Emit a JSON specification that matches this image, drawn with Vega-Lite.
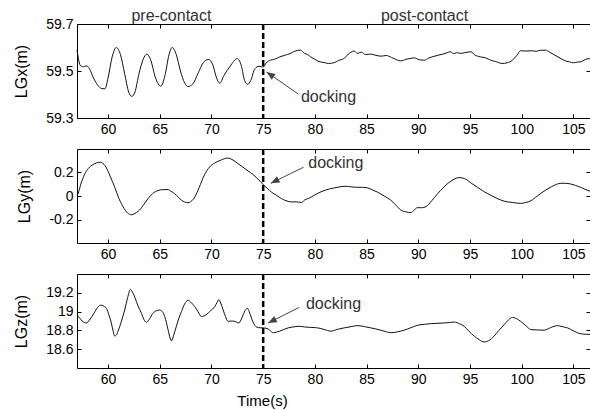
{
  "$schema": "https://vega.github.io/schema/vega-lite/v6.json",
  "background": "white",
  "padding": {"left": 13, "top": 7, "right": 1, "bottom": 3},
  "spacing": 31,
  "bounds": "flush",
  "config": {
    "view": {"stroke": "black", "strokeWidth": 1},
    "axis": {
      "grid": false, "domain": false, "tickColor": "black", "tickSize": -4,
      "labelFont": "Liberation Sans", "labelFontSize": 14, "labelColor": "black", "labelPadding": 8,
      "titleFont": "Liberation Sans", "titleFontSize": 16, "titleFontWeight": "normal", "titleColor": "black",
      "titlePadding": 16,
      "labelExpr": "'' + datum.value"
    },
    "text": {"font": "Liberation Sans", "fontSize": 16, "color": "#333"}
  },
  "datasets": {
    "p1": [
      {"t":57.0,"v":59.59},{"t":57.15,"v":59.55},{"t":57.3,"v":59.525},{"t":57.6,"v":59.518},{"t":57.9,"v":59.522},{"t":58.2,"v":59.51},{"t":58.6,"v":59.47},{"t":59.0,"v":59.44},{"t":59.4,"v":59.425},{"t":59.7,"v":59.424},{"t":60.0,"v":59.47},{"t":60.4,"v":59.56},{"t":60.8,"v":59.6},{"t":61.2,"v":59.57},{"t":61.6,"v":59.49},{"t":62.0,"v":59.41},{"t":62.3,"v":59.392},{"t":62.6,"v":59.41},{"t":63.0,"v":59.49},{"t":63.4,"v":59.55},{"t":63.75,"v":59.572},{"t":64.1,"v":59.55},{"t":64.6,"v":59.47},{"t":65.1,"v":59.435},{"t":65.5,"v":59.48},{"t":65.9,"v":59.57},{"t":66.2,"v":59.6},{"t":66.6,"v":59.57},{"t":67.0,"v":59.5},{"t":67.4,"v":59.45},{"t":67.75,"v":59.434},{"t":68.2,"v":59.445},{"t":68.7,"v":59.49},{"t":69.2,"v":59.535},{"t":69.7,"v":59.549},{"t":70.1,"v":59.53},{"t":70.5,"v":59.47},{"t":70.8,"v":59.448},{"t":71.2,"v":59.48},{"t":71.8,"v":59.52},{"t":72.5,"v":59.553},{"t":72.9,"v":59.52},{"t":73.2,"v":59.46},{"t":73.5,"v":59.443},{"t":73.8,"v":59.46},{"t":74.2,"v":59.51},{"t":74.6,"v":59.52},{"t":75.0,"v":59.517},{"t":75.3,"v":59.535},{"t":75.7,"v":59.546},{"t":76.1,"v":59.55},{"t":76.6,"v":59.56},{"t":77.1,"v":59.567},{"t":77.6,"v":59.574},{"t":78.1,"v":59.585},{"t":78.6,"v":59.589},{"t":79.0,"v":59.575},{"t":79.3,"v":59.57},{"t":79.6,"v":59.56},{"t":80.0,"v":59.55},{"t":80.4,"v":59.54},{"t":80.9,"v":59.536},{"t":81.3,"v":59.532},{"t":81.9,"v":59.536},{"t":82.3,"v":59.545},{"t":82.8,"v":59.553},{"t":83.2,"v":59.57},{"t":83.8,"v":59.585},{"t":84.1,"v":59.575},{"t":84.5,"v":59.58},{"t":84.9,"v":59.57},{"t":85.4,"v":59.572},{"t":85.8,"v":59.568},{"t":86.4,"v":59.563},{"t":86.9,"v":59.566},{"t":87.4,"v":59.558},{"t":87.9,"v":59.548},{"t":88.3,"v":59.543},{"t":88.8,"v":59.55},{"t":89.2,"v":59.553},{"t":89.6,"v":59.556},{"t":90.1,"v":59.548},{"t":90.6,"v":59.546},{"t":91.0,"v":59.555},{"t":91.5,"v":59.562},{"t":91.9,"v":59.567},{"t":92.4,"v":59.572},{"t":92.8,"v":59.578},{"t":93.1,"v":59.582},{"t":93.4,"v":59.574},{"t":93.7,"v":59.578},{"t":94.1,"v":59.575},{"t":94.5,"v":59.578},{"t":95.1,"v":59.582},{"t":95.4,"v":59.57},{"t":96.0,"v":59.56},{"t":96.5,"v":59.556},{"t":97.0,"v":59.546},{"t":97.5,"v":59.54},{"t":98.1,"v":59.532},{"t":98.6,"v":59.535},{"t":99.1,"v":59.546},{"t":99.5,"v":59.565},{"t":99.9,"v":59.586},{"t":100.4,"v":59.585},{"t":100.9,"v":59.586},{"t":101.4,"v":59.584},{"t":101.8,"v":59.588},{"t":102.3,"v":59.589},{"t":102.7,"v":59.58},{"t":103.1,"v":59.57},{"t":103.5,"v":59.56},{"t":103.9,"v":59.55},{"t":104.3,"v":59.542},{"t":104.6,"v":59.539},{"t":105.0,"v":59.535},{"t":105.4,"v":59.538},{"t":105.7,"v":59.539},{"t":106.1,"v":59.548},{"t":106.5,"v":59.553},{"t":106.6,"v":59.55}
    ],
    "p2": [
      {"t":57.0,"v":0.0},{"t":57.1,"v":0.019},{"t":57.4,"v":0.11},{"t":57.74,"v":0.185},{"t":58.1,"v":0.235},{"t":58.55,"v":0.268},{"t":59.26,"v":0.287},{"t":59.6,"v":0.27},{"t":59.84,"v":0.24},{"t":60.2,"v":0.17},{"t":60.65,"v":0.074},{"t":61.0,"v":-0.01},{"t":61.45,"v":-0.091},{"t":61.9,"v":-0.145},{"t":62.26,"v":-0.16},{"t":62.6,"v":-0.148},{"t":62.9,"v":-0.132},{"t":63.4,"v":-0.08},{"t":63.87,"v":-0.022},{"t":64.3,"v":0.02},{"t":64.84,"v":0.047},{"t":65.3,"v":0.054},{"t":65.8,"v":0.055},{"t":66.1,"v":0.04},{"t":66.45,"v":0.019},{"t":66.8,"v":-0.01},{"t":67.1,"v":-0.036},{"t":67.4,"v":-0.05},{"t":67.74,"v":-0.058},{"t":68.0,"v":-0.048},{"t":68.39,"v":-0.008},{"t":68.8,"v":0.07},{"t":69.35,"v":0.185},{"t":69.8,"v":0.245},{"t":70.32,"v":0.281},{"t":70.9,"v":0.305},{"t":71.55,"v":0.323},{"t":71.9,"v":0.315},{"t":72.26,"v":0.295},{"t":72.9,"v":0.255},{"t":73.55,"v":0.212},{"t":74.0,"v":0.185},{"t":74.35,"v":0.157},{"t":74.7,"v":0.125},{"t":75.0,"v":0.097},{"t":75.4,"v":0.065},{"t":75.8,"v":0.033},{"t":76.3,"v":0.005},{"t":76.77,"v":-0.022},{"t":77.2,"v":-0.04},{"t":77.74,"v":-0.05},{"t":78.2,"v":-0.05},{"t":78.7,"v":-0.055},{"t":78.97,"v":-0.036},{"t":79.4,"v":-0.02},{"t":79.94,"v":0.006},{"t":80.4,"v":0.028},{"t":80.9,"v":0.047},{"t":81.4,"v":0.06},{"t":81.87,"v":0.069},{"t":82.4,"v":0.078},{"t":83.0,"v":0.083},{"t":83.5,"v":0.078},{"t":84.12,"v":0.074},{"t":84.6,"v":0.074},{"t":85.1,"v":0.069},{"t":85.6,"v":0.05},{"t":86.06,"v":0.033},{"t":86.7,"v":0.0},{"t":87.35,"v":-0.036},{"t":87.8,"v":-0.075},{"t":88.3,"v":-0.119},{"t":88.8,"v":-0.135},{"t":89.28,"v":-0.141},{"t":89.6,"v":-0.12},{"t":89.92,"v":-0.099},{"t":90.3,"v":-0.1},{"t":90.73,"v":-0.091},{"t":91.3,"v":-0.04},{"t":91.86,"v":0.019},{"t":92.4,"v":0.07},{"t":92.98,"v":0.116},{"t":93.5,"v":0.145},{"t":93.95,"v":0.157},{"t":94.3,"v":0.152},{"t":94.6,"v":0.143},{"t":95.1,"v":0.11},{"t":95.72,"v":0.074},{"t":96.3,"v":0.04},{"t":97.01,"v":0.006},{"t":97.6,"v":-0.02},{"t":98.3,"v":-0.044},{"t":99.1,"v":-0.055},{"t":99.9,"v":-0.063},{"t":100.4,"v":-0.055},{"t":100.88,"v":-0.041},{"t":101.5,"v":0.0},{"t":102.16,"v":0.041},{"t":102.9,"v":0.08},{"t":103.78,"v":0.108},{"t":104.2,"v":0.108},{"t":104.74,"v":0.102},{"t":105.2,"v":0.09},{"t":105.7,"v":0.074},{"t":106.1,"v":0.058},{"t":106.6,"v":0.04}
    ],
    "p3": [
      {"t":57.0,"v":18.95},{"t":57.1,"v":18.948},{"t":57.5,"v":18.9},{"t":57.9,"v":18.879},{"t":58.2,"v":18.91},{"t":58.55,"v":18.965},{"t":58.9,"v":19.03},{"t":59.29,"v":19.069},{"t":59.55,"v":19.06},{"t":59.84,"v":19.035},{"t":60.1,"v":18.96},{"t":60.32,"v":18.879},{"t":60.5,"v":18.79},{"t":60.65,"v":18.74},{"t":60.8,"v":18.75},{"t":60.97,"v":18.792},{"t":61.3,"v":18.9},{"t":61.61,"v":19.017},{"t":61.9,"v":19.15},{"t":62.16,"v":19.236},{"t":62.35,"v":19.21},{"t":62.58,"v":19.156},{"t":62.9,"v":19.06},{"t":63.23,"v":18.983},{"t":63.45,"v":18.92},{"t":63.71,"v":18.886},{"t":64.0,"v":18.92},{"t":64.35,"v":18.983},{"t":64.7,"v":19.01},{"t":65.0,"v":19.017},{"t":65.25,"v":19.0},{"t":65.48,"v":18.948},{"t":65.65,"v":18.88},{"t":65.8,"v":18.809},{"t":66.0,"v":18.72},{"t":66.13,"v":18.688},{"t":66.35,"v":18.75},{"t":66.61,"v":18.844},{"t":66.85,"v":18.93},{"t":67.1,"v":19.0},{"t":67.4,"v":19.08},{"t":67.74,"v":19.121},{"t":68.0,"v":19.1},{"t":68.39,"v":19.052},{"t":68.7,"v":19.0},{"t":69.03,"v":18.948},{"t":69.3,"v":18.955},{"t":69.68,"v":18.983},{"t":70.0,"v":19.02},{"t":70.32,"v":19.052},{"t":70.55,"v":19.1},{"t":70.71,"v":19.128},{"t":70.9,"v":19.09},{"t":71.13,"v":19.017},{"t":71.35,"v":18.95},{"t":71.61,"v":18.896},{"t":71.9,"v":18.9},{"t":72.26,"v":18.896},{"t":72.65,"v":18.879},{"t":72.85,"v":18.91},{"t":73.06,"v":18.965},{"t":73.3,"v":19.02},{"t":73.48,"v":19.035},{"t":73.65,"v":19.0},{"t":73.87,"v":18.931},{"t":74.1,"v":18.87},{"t":74.35,"v":18.837},{"t":74.7,"v":18.828},{"t":75.0,"v":18.827},{"t":75.48,"v":18.816},{"t":75.7,"v":18.795},{"t":75.97,"v":18.775},{"t":76.3,"v":18.782},{"t":76.61,"v":18.792},{"t":77.0,"v":18.81},{"t":77.42,"v":18.827},{"t":78.0,"v":18.838},{"t":78.55,"v":18.844},{"t":78.97,"v":18.837},{"t":79.6,"v":18.832},{"t":80.26,"v":18.827},{"t":80.9,"v":18.81},{"t":81.55,"v":18.792},{"t":82.2,"v":18.812},{"t":82.84,"v":18.827},{"t":83.5,"v":18.84},{"t":84.12,"v":18.851},{"t":84.8,"v":18.84},{"t":85.41,"v":18.827},{"t":85.9,"v":18.815},{"t":86.38,"v":18.802},{"t":86.9,"v":18.785},{"t":87.35,"v":18.775},{"t":88.0,"v":18.785},{"t":88.63,"v":18.802},{"t":89.3,"v":18.83},{"t":89.92,"v":18.854},{"t":90.6,"v":18.865},{"t":91.21,"v":18.872},{"t":91.9,"v":18.876},{"t":92.5,"v":18.879},{"t":93.0,"v":18.884},{"t":93.47,"v":18.889},{"t":94.0,"v":18.87},{"t":94.43,"v":18.844},{"t":94.9,"v":18.79},{"t":95.4,"v":18.74},{"t":95.9,"v":18.7},{"t":96.37,"v":18.677},{"t":96.8,"v":18.69},{"t":97.33,"v":18.74},{"t":97.8,"v":18.8},{"t":98.3,"v":18.861},{"t":98.7,"v":18.91},{"t":99.1,"v":18.938},{"t":99.5,"v":18.925},{"t":99.9,"v":18.896},{"t":100.4,"v":18.85},{"t":100.88,"v":18.809},{"t":101.5,"v":18.805},{"t":102.16,"v":18.802},{"t":102.8,"v":18.83},{"t":103.45,"v":18.851},{"t":103.9,"v":18.84},{"t":104.42,"v":18.827},{"t":105.0,"v":18.795},{"t":105.55,"v":18.768},{"t":106.0,"v":18.76},{"t":106.6,"v":18.757}
    ],
    "a1": [{"t":78.39,"v":59.402,"t2":75.32,"v2":59.496,"label":"docking","lt":78.65,"lv":59.391}],
    "a2": [{"t":78.9,"v":0.245,"t2":75.74,"v2":0.108,"label":"docking","lt":79.36,"lv":0.281}],
    "a3": [{"t":78.49,"v":19.045,"t2":75.48,"v2":18.879,"label":"docking","lt":79.13,"lv":19.08}],
    "phase": [{"t":66.13,"v":59.7,"label":"pre-contact"},{"t":90.6,"v":59.7,"label":"post-contact"}]
  },
  "vconcat": [
    {
      "width": 513, "height": 94,
      "resolve": {"axis": {"x": "independent", "y": "independent"}},
      "layer": [
        {"data": {"name": "p1"}, "mark": {"type": "line", "color": "#111", "strokeWidth": 1, "interpolate": "monotone"},
         "encoding": {
           "x": {"field": "t", "type": "quantitative", "scale": {"domain": [57, 106.6], "nice": false, "zero": false},
                 "axis": {"values": [60,65,70,75,80,85,90,95,100,105], "title": null}},
           "y": {"field": "v", "type": "quantitative", "scale": {"domain": [59.3, 59.7], "nice": false, "zero": false},
                 "axis": {"values": [59.3, 59.5, 59.7], "title": "LGx(m)"}}
         }},
        {"data": {"name": "p1"}, "mark": {"type": "point", "opacity": 0},
         "encoding": {
           "x": {"field": "t", "type": "quantitative", "scale": {"domain": [57, 106.6], "nice": false, "zero": false},
                 "axis": {"orient": "top", "values": [60,65,70,75,80,85,90,95,100,105], "labels": false, "title": null}},
           "y": {"field": "v", "type": "quantitative", "scale": {"domain": [59.3, 59.7], "nice": false, "zero": false},
                 "axis": {"orient": "right", "values": [59.3, 59.5, 59.7], "labels": false, "title": null}}
         }},
        {"data": {"values": [{"t": 75}]}, "mark": {"type": "rule", "color": "black", "strokeWidth": 2.5, "strokeDash": [6, 3]},
         "encoding": {"x": {"field": "t", "type": "quantitative", "axis": null}}},
        {"data": {"name": "a1"}, "mark": {"type": "rule", "color": "#444", "strokeWidth": 1},
         "encoding": {
           "x": {"field": "t", "type": "quantitative", "axis": null}, "y": {"field": "v", "type": "quantitative", "axis": null},
           "x2": {"field": "t2"}, "y2": {"field": "v2"}}},
        {"data": {"name": "a1"}, "mark": {"type": "point", "shape": "M0,0L-0.4,1L0.4,1Z", "filled": true, "color": "#444", "opacity": 1, "size": 300, "angle": 304},
         "encoding": {"x": {"field": "t2", "type": "quantitative", "axis": null}, "y": {"field": "v2", "type": "quantitative", "axis": null}}},
        {"data": {"name": "a1"}, "mark": {"type": "text", "align": "left", "baseline": "middle"},
         "encoding": {"x": {"field": "lt", "type": "quantitative", "axis": null}, "y": {"field": "lv", "type": "quantitative", "axis": null}, "text": {"field": "label"}}},
        {"data": {"name": "phase"}, "mark": {"type": "text", "align": "center", "baseline": "alphabetic", "dy": -3, "clip": false},
         "encoding": {"x": {"field": "t", "type": "quantitative", "axis": null}, "y": {"field": "v", "type": "quantitative", "axis": null}, "text": {"field": "label"}}}
      ]
    },
    {
      "width": 513, "height": 94,
      "resolve": {"axis": {"x": "independent", "y": "independent"}},
      "layer": [
        {"data": {"name": "p2"}, "mark": {"type": "line", "color": "#111", "strokeWidth": 1, "interpolate": "monotone"},
         "encoding": {
           "x": {"field": "t", "type": "quantitative", "scale": {"domain": [57, 106.6], "nice": false, "zero": false},
                 "axis": {"values": [60,65,70,75,80,85,90,95,100,105], "title": null}},
           "y": {"field": "v", "type": "quantitative", "scale": {"domain": [-0.4, 0.4], "nice": false, "zero": false},
                 "axis": {"values": [-0.2, 0, 0.2], "title": "LGy(m)"}}
         }},
        {"data": {"name": "p2"}, "mark": {"type": "point", "opacity": 0},
         "encoding": {
           "x": {"field": "t", "type": "quantitative", "scale": {"domain": [57, 106.6], "nice": false, "zero": false},
                 "axis": {"orient": "top", "values": [60,65,70,75,80,85,90,95,100,105], "labels": false, "title": null}},
           "y": {"field": "v", "type": "quantitative", "scale": {"domain": [-0.4, 0.4], "nice": false, "zero": false},
                 "axis": {"orient": "right", "values": [-0.2, 0, 0.2], "labels": false, "title": null}}
         }},
        {"data": {"values": [{"t": 75}]}, "mark": {"type": "rule", "color": "black", "strokeWidth": 2.5, "strokeDash": [6, 3]},
         "encoding": {"x": {"field": "t", "type": "quantitative", "axis": null}}},
        {"data": {"name": "a2"}, "mark": {"type": "rule", "color": "#444", "strokeWidth": 1},
         "encoding": {
           "x": {"field": "t", "type": "quantitative", "axis": null}, "y": {"field": "v", "type": "quantitative", "axis": null},
           "x2": {"field": "t2"}, "y2": {"field": "v2"}}},
        {"data": {"name": "a2"}, "mark": {"type": "point", "shape": "M0,0L-0.4,1L0.4,1Z", "filled": true, "color": "#444", "opacity": 1, "size": 300, "angle": 243},
         "encoding": {"x": {"field": "t2", "type": "quantitative", "axis": null}, "y": {"field": "v2", "type": "quantitative", "axis": null}}},
        {"data": {"name": "a2"}, "mark": {"type": "text", "align": "left", "baseline": "middle"},
         "encoding": {"x": {"field": "lt", "type": "quantitative", "axis": null}, "y": {"field": "lv", "type": "quantitative", "axis": null}, "text": {"field": "label"}}}
      ]
    },
    {
      "width": 513, "height": 94,
      "resolve": {"axis": {"x": "independent", "y": "independent"}},
      "layer": [
        {"data": {"name": "p3"}, "mark": {"type": "line", "color": "#111", "strokeWidth": 1, "interpolate": "monotone"},
         "encoding": {
           "x": {"field": "t", "type": "quantitative", "scale": {"domain": [57, 106.6], "nice": false, "zero": false},
                 "axis": {"values": [60,65,70,75,80,85,90,95,100,105], "title": "Time(s)", "titleX": 185, "titleFontSize": 15, "titlePadding": 7}},
           "y": {"field": "v", "type": "quantitative", "scale": {"domain": [18.4, 19.4], "nice": false, "zero": false},
                 "axis": {"values": [18.6, 18.8, 19, 19.2], "title": "LGz(m)"}}
         }},
        {"data": {"name": "p3"}, "mark": {"type": "point", "opacity": 0},
         "encoding": {
           "x": {"field": "t", "type": "quantitative", "scale": {"domain": [57, 106.6], "nice": false, "zero": false},
                 "axis": {"orient": "top", "values": [60,65,70,75,80,85,90,95,100,105], "labels": false, "title": null}},
           "y": {"field": "v", "type": "quantitative", "scale": {"domain": [18.4, 19.4], "nice": false, "zero": false},
                 "axis": {"orient": "right", "values": [18.6, 18.8, 19, 19.2], "labels": false, "title": null}}
         }},
        {"data": {"values": [{"t": 75}]}, "mark": {"type": "rule", "color": "black", "strokeWidth": 2.5, "strokeDash": [6, 3]},
         "encoding": {"x": {"field": "t", "type": "quantitative", "axis": null}}},
        {"data": {"name": "a3"}, "mark": {"type": "rule", "color": "#444", "strokeWidth": 1},
         "encoding": {
           "x": {"field": "t", "type": "quantitative", "axis": null}, "y": {"field": "v", "type": "quantitative", "axis": null},
           "x2": {"field": "t2"}, "y2": {"field": "v2"}}},
        {"data": {"name": "a3"}, "mark": {"type": "point", "shape": "M0,0L-0.4,1L0.4,1Z", "filled": true, "color": "#444", "opacity": 1, "size": 300, "angle": 243},
         "encoding": {"x": {"field": "t2", "type": "quantitative", "axis": null}, "y": {"field": "v2", "type": "quantitative", "axis": null}}},
        {"data": {"name": "a3"}, "mark": {"type": "text", "align": "left", "baseline": "middle"},
         "encoding": {"x": {"field": "lt", "type": "quantitative", "axis": null}, "y": {"field": "lv", "type": "quantitative", "axis": null}, "text": {"field": "label"}}}
      ]
    }
  ]
}
